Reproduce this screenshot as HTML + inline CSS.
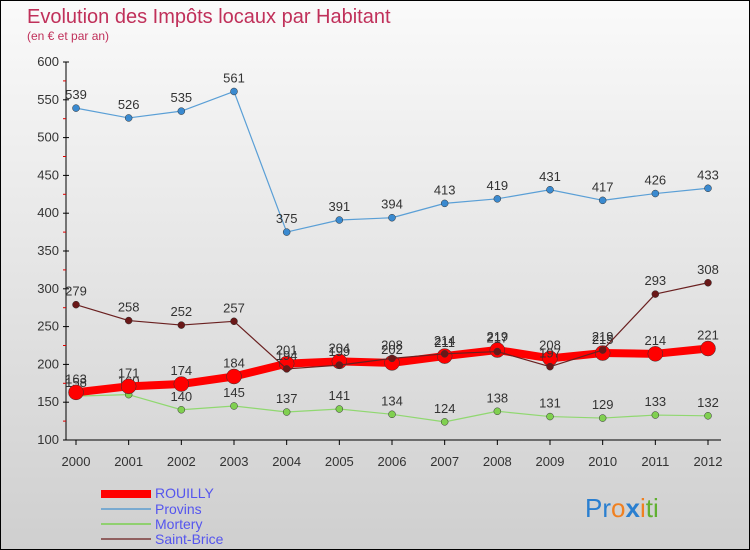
<!DOCTYPE html>
<html><head><meta charset="utf-8"><style>
body{margin:0}
#c{width:748px;height:548px;border:1px solid #000;background:linear-gradient(#fafafa,#cfcfcf);position:relative;overflow:hidden;font-family:"Liberation Sans","DejaVu Sans",sans-serif}
</style></head><body>
<div id="c">
<svg id="s" width="748" height="548" xmlns="http://www.w3.org/2000/svg">
<text x="26" y="22" font-size="20" fill="#c0305a">Evolution des Impôts locaux par Habitant</text>
<text x="26" y="39" font-size="12" fill="#c0305a">(en € et par an)</text>
<g id="axes"></g><g id="series"></g>
<g>
<rect x="100" y="489" width="50" height="8" fill="#f00"/>
<text x="154" y="497" font-size="14" fill="#5555ee">ROUILLY</text>
<line x1="100" y1="508" x2="150" y2="508" stroke="#7aaad0" stroke-width="2"/>
<text x="154" y="513" font-size="14" fill="#5555ee">Provins</text>
<line x1="100" y1="523" x2="150" y2="523" stroke="#90d070" stroke-width="2"/>
<text x="154" y="528" font-size="14" fill="#5555ee">Mortery</text>
<line x1="100" y1="538" x2="150" y2="538" stroke="#906060" stroke-width="2"/>
<text x="154" y="543" font-size="14" fill="#5555ee">Saint-Brice</text>
</g>
<text x="584" y="516" font-size="26"><tspan fill="#2a7fd0">Pr</tspan><tspan fill="#f08020">o</tspan><tspan fill="#2a7fd0" font-weight="bold">x</tspan><tspan fill="#f08020">i</tspan><tspan fill="#60b030">ti</tspan></text>
</svg></div>
<script>
const years=[2000,2001,2002,2003,2004,2005,2006,2007,2008,2009,2010,2011,2012];
const yTicks=[100,150,200,250,300,350,400,450,500,550,600];
const provins=[539,526,535,561,375,391,394,413,419,431,417,426,433];
const mortery=[158,160,140,145,137,141,134,124,138,131,129,133,132];
const saintBrice=[279,258,252,257,194,199,208,214,217,197,219,293,308];
const rouilly=[163,171,174,184,201,204,202,211,219,208,215,214,221];
const NS="http://www.w3.org/2000/svg";
const X=i=>75+i*(707-75)/(years.length-1);
const Y=v=>439-(v-100)*378/500;
function mk(t,a,p){const e=document.createElementNS(NS,t);for(const k in a)e.setAttribute(k,a[k]);p.appendChild(e);return e;}
const ax=document.getElementById('axes');
const yl=mk('line',{x1:65,y1:61,x2:65,y2:439,stroke:'#000'},ax);


yTicks.forEach(v=>{
 mk('line',{x1:62,y1:Y(v),x2:68,y2:Y(v),stroke:'#000'},ax);
 if(v<600)mk('line',{x1:62,y1:Y(v+25),x2:65,y2:Y(v+25),stroke:'#d00'},ax);
 const t=mk('text',{x:58,y:Y(v)+4,'font-size':13,fill:'#333','text-anchor':'end'},ax);t.textContent=v;
 
 
});
const xl=mk('line',{x1:65,y1:439,x2:720,y2:439,stroke:'#000'},ax);


years.forEach((y,i)=>{
 mk('line',{x1:X(i),y1:439,x2:X(i),y2:444,stroke:'#000'},ax);
 const t=mk('text',{x:X(i),y:465,'font-size':13,fill:'#333','text-anchor':'middle'},ax);t.textContent=y;
 
 
});
const sg=document.getElementById('series');
function draw(vals,name,col,dot,w,r,labels){
 const g=mk('g',{},sg);
 
 
 const p=mk('polyline',{points:vals.map((v,i)=>X(i)+','+Y(v)).join(' '),fill:'none',stroke:col,'stroke-width':w,'stroke-linejoin':'round'},g);
 
 
 vals.forEach((v,i)=>{
  const c=mk('circle',{cx:X(i),cy:Y(v),r:r,fill:dot,stroke:'#333','stroke-width':0.5},g);
  
  
  if(labels){const t=mk('text',{x:X(i),y:Y(v)-9,'font-size':13,fill:'#333','text-anchor':'middle'},g);t.textContent=v;
  
  }
 });
}
draw(provins,'provins','#5a9fd6','#3a8ad0',1.2,3.5,true);
draw(mortery,'mortery','#90d870','#80d050',1.2,3.5,true);
draw(rouilly,'rouilly','#f00','#f00',8,7.5,true);
draw(saintBrice,'saint-brice','#6a2020','#6a1818',1.2,3.5,true);
</script>
</body></html>
